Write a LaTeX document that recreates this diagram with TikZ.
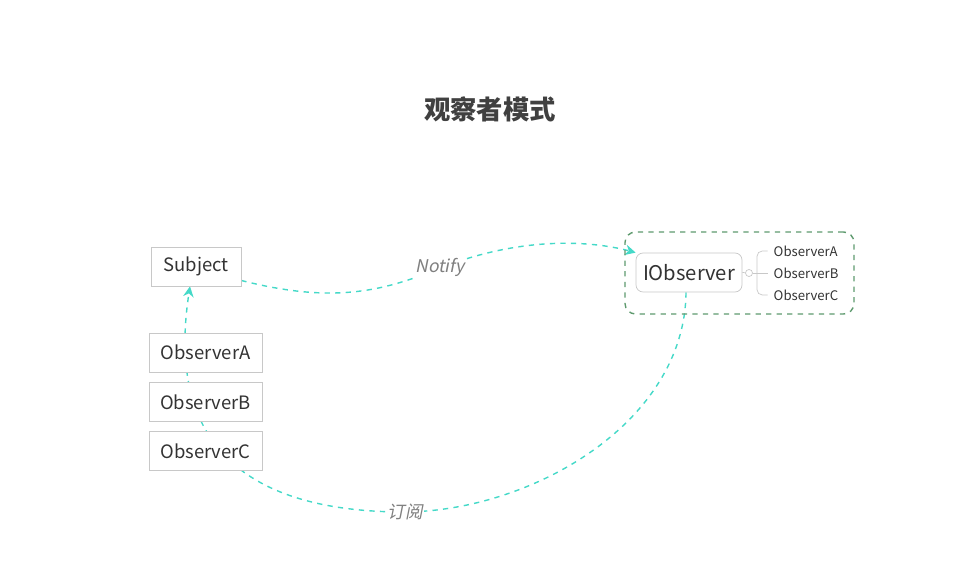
\documentclass[tikz,border=0pt]{standalone}
\usepackage{fontspec}
\setmainfont{Noto Sans CJK SC}
\newfontfamily\slantfont[FakeSlant=0.2]{Noto Sans CJK SC}
\usetikzlibrary{arrows.meta,positioning,fit,backgrounds}
\definecolor{linkcyan}{HTML}{45D9C8}
\definecolor{groupgreen}{HTML}{5E9A6E}
\definecolor{boxgray}{HTML}{C8C8C8}
\definecolor{textgray}{HTML}{333333}

\begin{document}
\begin{tikzpicture}[
    every node/.style={align=center,text=textgray},
    classbox/.style={rectangle,draw=boxgray,fill=white,minimum height=0.78cm,font=\fontsize{10.5}{12}\selectfont},
    ifacebox/.style={rectangle,rounded corners=4pt,draw=boxgray,fill=white,minimum width=2.12cm,minimum height=0.78cm,font=\fontsize{11.5}{13}\selectfont},
    small/.style={font=\fontsize{7.5}{9}\selectfont,anchor=west},
    group/.style={rectangle,rounded corners=6pt,draw=groupgreen,thick,dashed},
    link/.style={-{Stealth[length=6pt,width=6pt]},draw=linkcyan,thick,dashed},
    linklabel/.style={fill=white,inner sep=1pt,text=gray,font=\slantfont\fontsize{10}{12}\selectfont}
]
\useasboundingbox (0,0) rectangle (19.38,11.46);

% =====================
% TITLE
% =====================
\node[font=\bfseries\fontsize{15}{18}\selectfont,text=black!75] (title) at (9.8,9.28) {观察者模式};

% =====================
% LEFT SIDE
% =====================
\node[classbox,minimum width=1.8cm] (subject) at (3.92,6.13) {Subject};
\node[classbox,minimum width=2.26cm] (obsA) at (4.11,4.41) {ObserverA};
\node[classbox,minimum width=2.26cm,below=0.2cm of obsA] (obsB) {ObserverB};
\node[classbox,minimum width=2.26cm,below=0.18cm of obsB] (obsC) {ObserverC};

% =====================
% RIGHT SIDE
% =====================
\node[group,minimum width=4.58cm,minimum height=1.64cm] (group) at (14.79,6.0) {};
\node[ifacebox] (iobs) at (13.78,6.01) {IObserver};
\node[small] (subA) at (15.35,6.44) {ObserverA};
\node[small] (subB) at (15.35,6.0) {ObserverB};
\node[small] (subC) at (15.35,5.56) {ObserverC};
\node[circle,draw=boxgray,inner sep=0pt,minimum size=4pt] (knob) at (14.98,6.0) {};
\draw[boxgray] (iobs.east) -- (knob);
\draw[boxgray] (knob) -- (subB.west);
\draw[boxgray,rounded corners=3pt] (subA.west) -- (15.14,6.44) -- (15.14,5.56) -- (subC.west);

% =====================
% CONNECTORS
% =====================
\begin{scope}[on background layer]
\draw[link] (subject.east) ++(0,-0.28) coordinate (sstart)
  .. controls (6.6,5.4) and (7.6,5.6) .. (8.8,6.1)
  .. controls (10.6,6.8) and (12.0,6.6) .. (iobs.north west);
\draw[link] (iobs.south) ++(-0.06,0) coordinate (istart)
  .. controls (13.7,3.0) and (10.6,1.2) .. (8.0,1.22)
  .. controls (5.0,1.25) and (3.3,2.5) .. ([xshift=-0.12cm]subject.south);
\end{scope}
\node[linklabel] (notify) at (8.8,6.12) {Notify};
\node[linklabel] (subscribe) at (8.1,1.22) {订阅};

\end{tikzpicture}
\end{document}
